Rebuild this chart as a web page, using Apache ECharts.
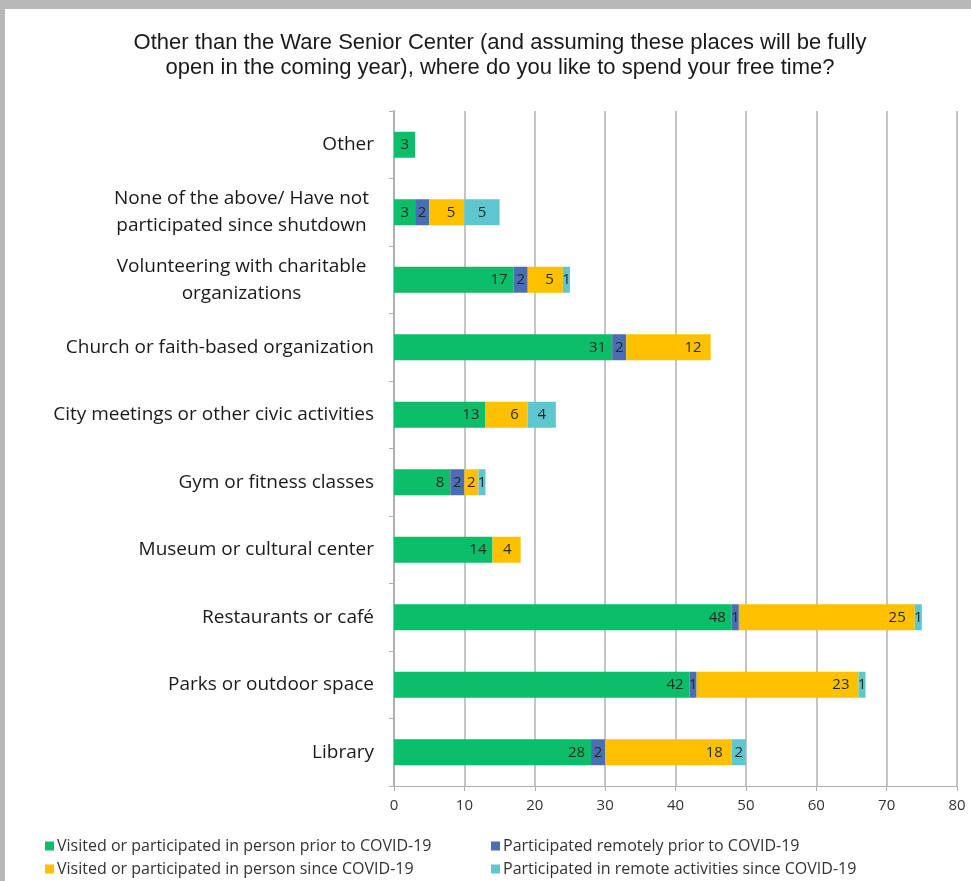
<!DOCTYPE html>
<html>
<head>
<meta charset="utf-8">
<script src="https://cdn.jsdelivr.net/npm/echarts@6/dist/echarts.min.js"></script>
<style>
  html, body { margin: 0; padding: 0; background: #fff; }
  #frame {
    position: absolute; left: 0; top: 0; width: 971px; height: 881px;
    box-sizing: border-box;
    border-top: 9px solid #b8b8b8;
    border-left: 5px solid #b8b8b8;
  }
  #box { position: absolute; left: 0; top: 0; width: 971px; height: 881px; }
</style>
</head>
<body>
<div id="frame"></div>
<div id="box"></div>
<script>
// categories, bottom to top
var categories = [
  "Library",
  "Parks or outdoor space",
  "Restaurants or café",
  "Museum or cultural center",
  "Gym or fitness classes",
  "City meetings or other civic activities",
  "Church or faith-based organization",
  "Volunteering with charitable\norganizations",
  "None of the above/ Have not\nparticipated since shutdown",
  "Other"
];
var inPersonPrior = [28, 42, 48, 14, 8, 13, 31, 17, 3, 3];
var remotePrior = [2, 1, 1, 0, 2, 0, 2, 2, 2, 0];
var inPersonSince = [18, 23, 25, 4, 2, 6, 12, 5, 5, 0];
var remoteSince = [2, 1, 1, 0, 1, 4, 0, 1, 5, 0];
var seriesNames = [
  "Visited or participated in person prior to COVID-19",
  "Participated remotely prior to COVID-19",
  "Visited or participated in person since COVID-19",
  "Participated in remote activities since COVID-19"
];
var xTicks = [0, 10, 20, 30, 40, 50, 60, 70, 80];

var colors = ["#0cbd69", "#4b6db3", "#ffc000", "#5ec6cf"];
var labelFont = "Open Sans, sans-serif";

function mk(name, data, color, pos, dist) {
  return {
    name: name,
    type: "bar",
    stack: "total",
    barWidth: 26,
    itemStyle: { color: color },
    label: {
      show: true,
      position: pos,
      distance: dist,
      color: "#1f2b24",
      fontSize: 15,
      fontFamily: labelFont,
      formatter: function (p) { return p.value ? p.value : ""; }
    },
    data: data.map(function (v) {
      if (v === 0) return null;
      // very short segments keep their number centred
      if (v <= 2) return { value: v, label: { position: "inside", distance: 0 } };
      return v;
    })
  };
}

// one legend per item so the two rows sit where the reference has them
var legendPos = [[40, 833], [486, 833], [40, 856], [486, 856]];
var legends = seriesNames.map(function (n, i) {
  return {
    data: [n],
    left: legendPos[i][0],
    top: legendPos[i][1],
    itemWidth: 9,
    itemHeight: 9,
    itemGap: 4,
    icon: "rect",
    textStyle: { fontFamily: labelFont, fontSize: 16, color: "#333", padding: [0, 0, 0, -2] }
  };
});

var myChart = echarts.init(document.getElementById("box"));
var option = {
  animation: false,
  title: {
    text: "Other than the Ware Senior Center (and assuming these places will be fully\nopen in the coming year), where do you like to spend your free time?",
    left: 495,
    top: 25,
    textAlign: "center",
    textStyle: {
      fontFamily: "Liberation Sans, Arial, sans-serif",
      fontWeight: "normal",
      fontSize: 22,
      lineHeight: 25,
      color: "#1a1a1a"
    }
  },
  legend: legends,
  grid: { left: 394, right: 14, top: 111, bottom: 95 },
  xAxis: {
    type: "value",
    min: 0,
    max: 80,
    interval: 10,
    axisLine: { show: true, lineStyle: { color: "#b0b0b0", width: 1 } },
    axisTick: { show: true, length: 5, lineStyle: { color: "#b0b0b0" } },
    splitLine: { show: true, lineStyle: { color: "#c4c4c4", width: 2 } },
    axisLabel: {
      color: "#333",
      fontSize: 15,
      fontFamily: labelFont,
      margin: 12,
      formatter: function (v) { return xTicks.indexOf(v) >= 0 ? String(v) : ""; }
    }
  },
  yAxis: {
    type: "category",
    data: categories,
    axisLine: { show: true, lineStyle: { color: "#b0b0b0", width: 2 } },
    axisTick: { show: true, length: 5, lineStyle: { color: "#b0b0b0" } },
    axisLabel: {
      color: "#1a1a1a",
      fontSize: 19,
      fontFamily: labelFont,
      lineHeight: 27,
      margin: 20,
      formatter: function (v) {
        if (v.indexOf("\n") >= 0) return "{w|" + v + "}";
        return v;
      },
      rich: {
        w: { width: 265, align: "center", fontSize: 19, lineHeight: 27, fontFamily: labelFont, color: "#1a1a1a" }
      }
    }
  },
  series: [
    mk(seriesNames[0], inPersonPrior, colors[0], "insideRight", 6),
    mk(seriesNames[1], remotePrior, colors[1], "inside", 0),
    mk(seriesNames[2], inPersonSince, colors[2], "insideRight", 9),
    mk(seriesNames[3], remoteSince, colors[3], "inside", 0)
  ]
};
myChart.setOption(option);
</script>
</body>
</html>
